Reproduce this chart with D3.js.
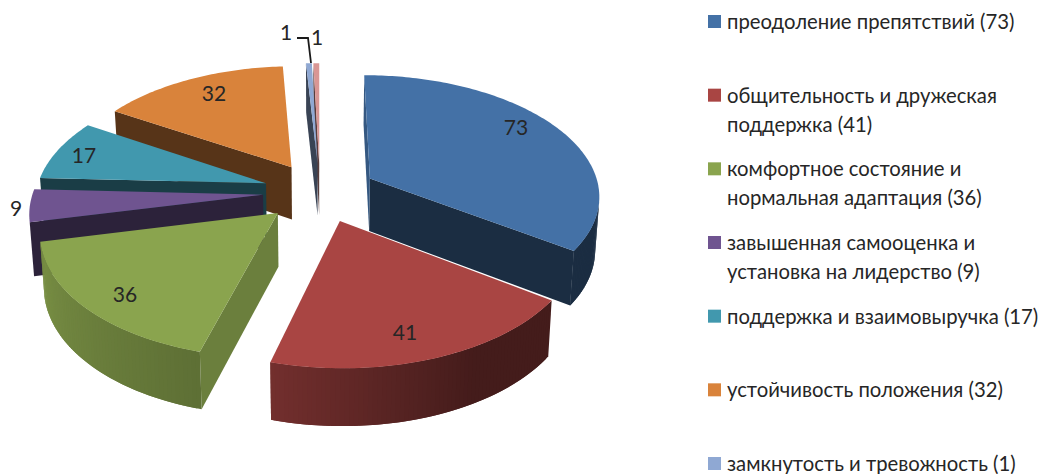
<!DOCTYPE html>
<html>
<head>
<meta charset="utf-8">
<script src="https://cdn.jsdelivr.net/npm/d3@7"></script>
<style>
html,body{margin:0;padding:0;background:#fff;overflow:hidden;}
text{font-family:Lato,"Open Sans","Noto Sans",sans-serif;fill:#262626;}
</style>
</head>
<body>
<div id="canvas"></div>
<script>
//Data
var values = [73,41,36,9,17,32,1,1];
var categories = [
    'преодоление препятствий (73)',
    'общительность и дружеская|поддержка (41)',
    'комфортное состояние и|нормальная адаптация (36)',
    'завышенная самооценка и|установка на лидерство (9)',
    'поддержка и взаимовыручка (17)',
    'устойчивость положения (32)',
    'замкнутость и тревожность (1)'
];
var colors = ['#4471a6','#a94543','#8aa44e','#6f5490','#4198ae','#d9833b','#8fa8d3','#d99694'];

//Pie geometry, the pie is tilted and seen in perspective
var W = 1043, H = 474;
var cx = 320, cy = 192,
    rx = 230, ry = 120,
    persp = .13,
    explode = .248,
    depth = 53,
    sink = .985;

//Back slices first
var drawOrder = [7,6,5,4,3,2,0,1];
//Label anchors: slice index, x, y
var labelAnchors = [[0,516,135],[1,405,340],[2,125,302],[3,16,216],[4,84,163],[5,214,101],[6,286,40],[7,317,45]];
var leader = [[297,38],[308,38],[311,63]];

var svg = d3.select('#canvas').append('svg')
    .attr('width',W)
    .attr('height',H)
    .style('display','block');

var arcs = d3.pie().sort(null)(values);
var toDeg = 180/Math.PI;

//Shading of the rim and of the side walls, as share of the slice colour
var rimShade = d3.scaleLinear().domain([0,150,195,257,360]).range([.4,.4,.68,.88,.88]);
var wallShade = d3.scaleLinear().domain([105,160]).range([.78,.4]).clamp(true);
function tint(c,t){ return d3.interpolateRgb('#000',c)(t); }

function project(a,theta,r,bottom){
    var mid = (a.startAngle+a.endAngle)/2;
    var wx = explode*Math.sin(mid)+r*Math.sin(theta),
        wz = -explode*Math.cos(mid)-r*Math.cos(theta);
    var s = 1/(1-persp*wz);
    var x = rx*wx*s,
        y = ry*wz*s;
    if(bottom){
        x = x*sink;
        y = y+depth*Math.sqrt(s);
    }
    return [cx+x,cy+y];
}

var line = d3.line();
//d3.polygonArea is positive for clockwise points on screen
function signedArea(p){
    return -d3.polygonArea(p);
}

drawOrder.forEach(function(i){
    var a = arcs[i], c = colors[i];
    var g = svg.append('g').attr('class','slice');
    var apexT = project(a,0,0,false), apexB = project(a,0,0,true);

    //Radial walls
    var wallS = [apexT,project(a,a.startAngle,1,false),project(a,a.startAngle,1,true),apexB];
    var wallE = [apexT,project(a,a.endAngle,1,false),project(a,a.endAngle,1,true),apexB];
    if(signedArea(wallE)>0){
        g.append('path').attr('d',line(wallE)+'Z').attr('fill',tint(c,wallShade(a.endAngle*toDeg+90)));
    }
    if(signedArea(wallS)<0){
        g.append('path').attr('d',line(wallS)+'Z').attr('fill',tint(c,wallShade(a.startAngle*toDeg-90)));
    }

    //Outer rim, in thin strips so the shade can change along it
    //each strip runs under the next one, that keeps the seams from showing
    var steps = Math.max(2,Math.ceil((a.endAngle-a.startAngle)*toDeg));
    var angles = d3.range(steps+1).map(function(k){
        return a.startAngle+(a.endAngle-a.startAngle)*k/steps;
    });
    d3.pairs(angles).forEach(function(t,k){
        var t2 = angles[Math.min(k+2,steps)];
        var strip = [project(a,t[0],1,false),project(a,t2,1,false),project(a,t2,1,true),project(a,t[0],1,true)];
        if(signedArea(strip)<0){
            g.append('path').attr('d',line(strip)+'Z').attr('fill',tint(c,rimShade(t[0]*toDeg)));
        }
    });

    //Top face
    var top = [apexT].concat(angles.map(function(t){return project(a,t,1,false);}));
    g.append('path').attr('d',line(top)+'Z').attr('fill',c);
});

//Leader line for the small slice
svg.append('path')
    .attr('d',line(leader))
    .attr('fill','none')
    .attr('stroke','#1a1a1a')
    .attr('stroke-width',1.8);

//Data labels
svg.selectAll('.value')
    .data(labelAnchors)
    .enter()
    .append('text')
    .attr('class','value')
    .attr('x',function(d){return d[1]})
    .attr('y',function(d){return d[2]})
    .attr('text-anchor','middle')
    .style('font-size','21px')
    .text(function(d){return values[d[0]]});

//Legend, runs off the bottom of the picture like the original
var legendY = d3.scalePoint().domain(categories).range([21.5,463.5]);
var legend = svg.selectAll('.legend')
    .data(categories)
    .enter()
    .append('g')
    .attr('class','legend')
    .attr('transform',function(d){return 'translate(708,'+legendY(d)+')';});

legend.append('rect')
    .attr('y',-6.5)
    .attr('width',13)
    .attr('height',13)
    .attr('fill',function(d,i){return colors[i]});

legend.each(function(d){
    var row = d3.select(this);
    d.split('|').forEach(function(t,k){
        row.append('text')
            .attr('x',19)
            .attr('y',7.5+k*29)
            .style('font-size','20.3px')
            .text(t);
    });
});
</script>
</body>
</html>
